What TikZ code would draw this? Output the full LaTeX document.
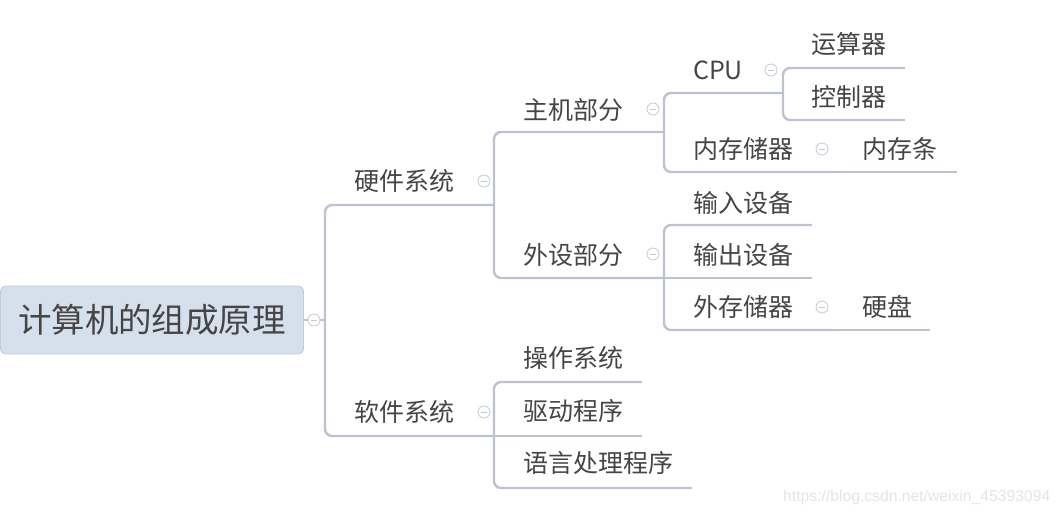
\documentclass[tikz,border=0pt]{standalone}
\usepackage{fontspec}
\setmainfont{Noto Sans CJK SC}
\newfontfamily\wmfont{Liberation Sans}
\definecolor{linec}{HTML}{BCC3CF}
\definecolor{txtc}{HTML}{454545}
\definecolor{rootfill}{HTML}{D6DFEC}
\definecolor{rootdraw}{HTML}{BFCADB}
\definecolor{circc}{HTML}{C3C9D4}
\definecolor{wmc}{HTML}{E4E4E4}
\begin{document}
\begin{tikzpicture}[x=1pt,y=-1pt,
  conn/.style={draw=linec, line width=2.4pt, rounded corners=7pt},
  topic/.style={anchor=west, inner sep=0pt, text=txtc, font=\fontsize{25}{25}\selectfont},
  rootbox/.style={rectangle, rounded corners=5pt, fill=rootfill, draw=rootdraw, line width=0.8pt,
    minimum width=303pt, minimum height=68pt, inner sep=0pt, text=txtc, font=\fontsize{33.5}{33.5}\selectfont},
  collapse/.style={circle, draw=circc, fill=white, line width=0.8pt, minimum size=12pt, inner sep=0pt,
    path picture={\draw[circc, line width=0.8pt] ([xshift=-3pt]path picture bounding box.center) -- ([xshift=3pt]path picture bounding box.center);}},
]
\useasboundingbox (0,0) rectangle (1063,517);

% root
\node[rootbox] (root) at (152,320) {计算机的组成原理};
\coordinate (t0) at (325,320);
\draw[conn] (root.east) -- (t0);

% level 1
\node[topic] (hw) at (354,181) {硬件系统};
\coordinate (hwU) at (494,205);
\node[topic] (sw) at (354,412) {软件系统};
\coordinate (swU) at (494,436);
\draw[conn] (t0) |- (hwU);
\draw[conn] (t0) |- (swU);

% level 2
\node[topic] (host) at (523,110) {主机部分};
\coordinate (hostU) at (664,132);
\node[topic] (peri) at (523,255) {外设部分};
\coordinate (periU) at (664,278);
\draw[conn] (hwU) |- (hostU);
\draw[conn] (hwU) |- (periU);

\node[topic] (os) at (523,358) {操作系统};
\coordinate (osU) at (642,382);
\node[topic] (drv) at (523,411) {驱动程序};
\coordinate (drvU) at (642,436);
\node[topic] (lang) at (523,463) {语言处理程序};
\coordinate (langU) at (692,488);
\draw[conn] (swU) |- (osU);
\draw[conn] (swU) -- (drvU);
\draw[conn] (swU) |- (langU);

% level 3
\node[topic] (cpu) at (693,70) {CPU};
\coordinate (cpuU) at (783,93);
\node[topic] (mem) at (693,149) {内存储器};
\coordinate (memU) at (833,172);
\draw[conn] (hostU) |- (cpuU);
\draw[conn] (hostU) |- (memU);

\node[topic] (in) at (693,203) {输入设备};
\coordinate (inU) at (812,225);
\node[topic] (out) at (693,255) {输出设备};
\coordinate (outU) at (812,278);
\node[topic] (ext) at (693,307) {外存储器};
\coordinate (extU) at (833,330);
\draw[conn] (periU) |- (inU);
\draw[conn] (periU) -- (outU);
\draw[conn] (periU) |- (extU);

% level 4
\node[topic] (alu) at (811,44) {运算器};
\coordinate (aluU) at (905,68);
\node[topic] (ctl) at (811,97) {控制器};
\coordinate (ctlU) at (905,120);
\draw[conn] (cpuU) |- (aluU);
\draw[conn] (cpuU) |- (ctlU);

\node[topic] (ram) at (862,149) {内存条};
\coordinate (ramU) at (957,172);
\draw[conn] (memU) -- (ramU);

\node[topic] (hd) at (862,307) {硬盘};
\coordinate (hdU) at (930,330);
\draw[conn] (extU) -- (hdU);

% collapse markers
\node[collapse] (c0) at (314,320) {};
\node[collapse] (chw) at (484,181) {};
\node[collapse] (csw) at (484,412) {};
\node[collapse] (chost) at (653,109) {};
\node[collapse] (cperi) at (653,254) {};
\node[collapse] (ccpu) at (771,70) {};
\node[collapse] (cmem) at (822,149) {};
\node[collapse] (cext) at (822,307) {};

% watermark
\node[anchor=west, inner sep=0pt, text=wmc, font=\wmfont\fontsize{15.7}{16}\selectfont] (wm) at (783,497) {https://blog.csdn.net/weixin\_45393094};
\end{tikzpicture}
\end{document}
